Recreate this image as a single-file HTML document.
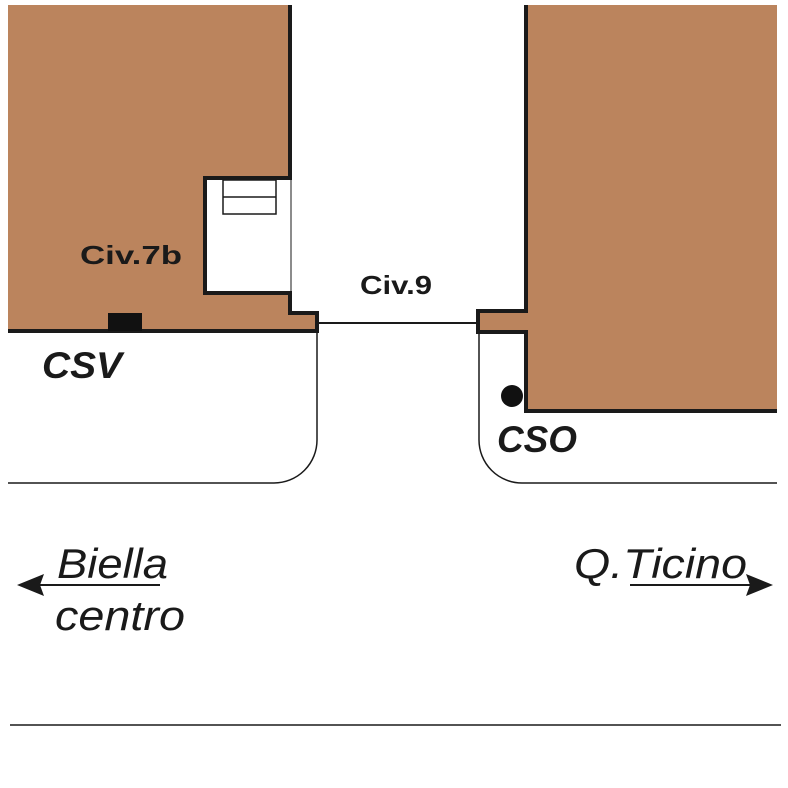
<!DOCTYPE html>
<html><head><style>body{margin:0;background:#fff}svg{display:block}</style></head><body>
<svg width="788" height="788" viewBox="0 0 788 788" xmlns="http://www.w3.org/2000/svg">
<rect width="788" height="788" fill="#fff"/>
<path d="M8 5 H290 V178 H205 V293 H290 V313 H317 V331 H8 Z" fill="#bb845d"/>
<path d="M290 5 V178 H205 V293 H290 V313 H317 V331 H8" fill="none" stroke="#1a1a1a" stroke-width="4"/>
<rect x="223" y="180" width="53" height="34" fill="none" stroke="#1a1a1a" stroke-width="1.5"/>
<line x1="223" y1="197" x2="276" y2="197" stroke="#1a1a1a" stroke-width="1.5"/>
<line x1="291" y1="180" x2="291" y2="293" stroke="#1a1a1a" stroke-width="1"/>
<rect x="108" y="313" width="34" height="18" fill="#111"/>
<path d="M526 5 H777 V411 H526 V332 H478 V311 H526 Z" fill="#bb845d"/>
<path d="M526 5 V311 H478 V332 H526 V411 H777" fill="none" stroke="#1a1a1a" stroke-width="4"/>
<line x1="317" y1="323" x2="478" y2="323" stroke="#1a1a1a" stroke-width="2"/>
<path d="M317 331 V440 A43 43 0 0 1 274 483 H8" fill="none" stroke="#1a1a1a" stroke-width="1.5"/>
<path d="M479 332 V440 A43 43 0 0 0 522 483 H777" fill="none" stroke="#1a1a1a" stroke-width="1.5"/>
<line x1="10" y1="725" x2="781" y2="725" stroke="#1a1a1a" stroke-width="1.5"/>
<circle cx="512" cy="396" r="11" fill="#111"/>
<g font-family="Liberation Sans, sans-serif" fill="#1a1a1a">
<text x="80" y="264" font-size="26" font-weight="bold" textLength="102" lengthAdjust="spacingAndGlyphs">Civ.7b</text>
<text x="360" y="294" font-size="26" font-weight="bold" textLength="72" lengthAdjust="spacingAndGlyphs">Civ.9</text>
<text x="42" y="378" font-size="37" font-weight="bold" font-style="italic" textLength="80" lengthAdjust="spacingAndGlyphs">CSV</text>
<text x="497" y="452" font-size="37" font-weight="bold" font-style="italic" textLength="80" lengthAdjust="spacingAndGlyphs">CSO</text>
<text x="57" y="578" font-size="42" font-style="italic" textLength="111" lengthAdjust="spacingAndGlyphs">Biella</text>
<text x="55" y="630" font-size="42" font-style="italic" textLength="130" lengthAdjust="spacingAndGlyphs">centro</text>
<text x="574" y="578" font-size="42" font-style="italic" textLength="173" lengthAdjust="spacingAndGlyphs">Q.Ticino</text>
</g>
<line x1="40" y1="585" x2="160" y2="585" stroke="#1a1a1a" stroke-width="2"/>
<path d="M17 585 L44 574 L40 585 L44 596 Z" fill="#1a1a1a"/>
<line x1="630" y1="585" x2="750" y2="585" stroke="#1a1a1a" stroke-width="2"/>
<path d="M773 585 L746 574 L750 585 L746 596 Z" fill="#1a1a1a"/>
</svg>
</body></html>
